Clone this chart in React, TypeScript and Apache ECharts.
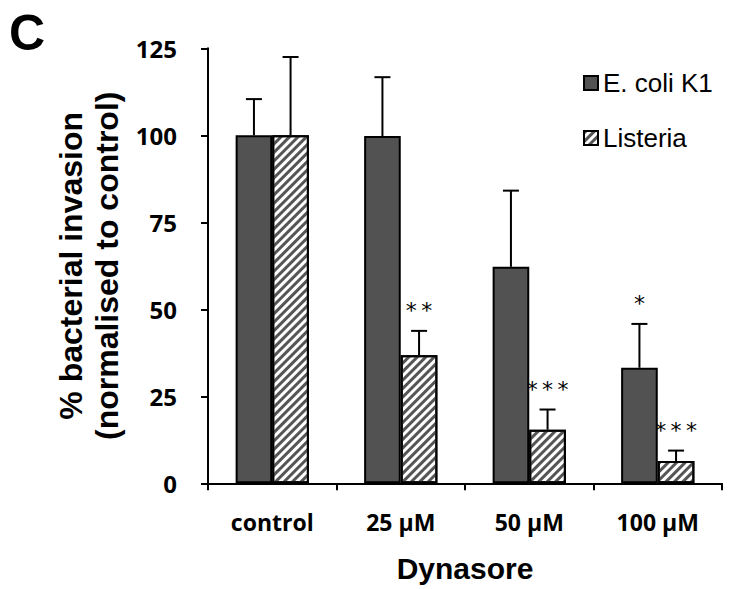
import React, { useEffect, useRef } from "react";
import * as echarts from "echarts";

const categories = ["control", "25 µM", "50 µM", "100 µM"];
const ecoli = [100, 99.8, 62.2, 33.2];
const ecoliErr = [10.4, 16.9, 21.9, 12.6];
const listeria = [100, 36.8, 15.4, 6.4];
const listeriaErr = [22.5, 7.0, 5.8, 3.0];
const ecoliSig = ["", "", "", "*"];
const listeriaSig = ["", "**", "***", "***"];
const yTicks = [0, 25, 50, 75, 100, 125];

const GAP = 0.43;

export default function App() {
  const ref = useRef<HTMLDivElement>(null);
  useEffect(() => {
    const chart = echarts.init(ref.current!, null, { renderer: "svg" });
    const makeErr = (idx: number, vals: number[], errs: number[], sig: string[]) => ({
      type: "custom",
      z: 5,
      silent: true,
      data: vals.map((v, i) => [i, v, errs[i]]),
      renderItem: (params: any, api: any) => {
        const ci = api.value(0);
        const v = api.value(1);
        const e = api.value(2);
        const s = String(sig[params.dataIndex] || "");
        const base = api.coord([ci, v]);
        const top = api.coord([ci, v + e]);
        const band = api.size([1, 0])[0];
        const bw = (band * (1 - GAP)) / 2;
        const cx = base[0] + (idx === 0 ? -bw / 2 : bw / 2);
        const children: any[] = [
          { type: "line", shape: { x1: cx, y1: base[1], x2: cx, y2: top[1] }, style: { stroke: "#000", lineWidth: 2 } },
          { type: "line", shape: { x1: cx - 8, y1: top[1], x2: cx + 8, y2: top[1] }, style: { stroke: "#000", lineWidth: 2 } },
        ];
        if (s) {
          children.push({
            type: "text",
            style: {
              text: s.split("").join("\u2009"),
              x: cx,
              y: top[1] - 20,
              textAlign: "center",
              textVerticalAlign: "middle",
              font: "22px 'DejaVu Sans', sans-serif",
              fill: "#000",
            },
          });
        }
        return { type: "group", children };
      },
    });
    chart.setOption({
      animation: false,
      backgroundColor: "#fff",
      grid: { left: 208, right: 32, top: 48.3, bottom: 105.7, containLabel: false },
      legend: {
        orient: "vertical",
        left: 578,
        top: 65,
        itemWidth: 14,
        itemHeight: 14,
        itemGap: 29,
        icon: "rect",
        textStyle: { fontSize: 26, lineHeight: 26, color: "#000", fontFamily: "'Liberation Sans', Arial, sans-serif" },
        data: ["E. coli K1", "Listeria"],
      },
      graphic: [
        {
          type: "text",
          left: 9,
          top: 8,
          style: { text: "C", font: "bold 50px 'Liberation Sans', Arial, sans-serif", fill: "#000" },
        },
      ],
      xAxis: {
        type: "category",
        data: categories,
        name: "Dynasore",
        nameLocation: "middle",
        nameGap: 70,
        nameTextStyle: { fontSize: 30, fontWeight: "bold", color: "#000", fontFamily: "'Liberation Sans', Arial, sans-serif" },
        axisLine: { lineStyle: { color: "#000", width: 2 } },
        axisTick: { show: true, length: 7, lineStyle: { color: "#000", width: 2 } },
        axisLabel: { fontSize: 23, fontWeight: "bold", color: "#000", margin: 27, fontFamily: "'Open Sans', sans-serif" },
      },
      yAxis: {
        type: "value",
        min: yTicks[0],
        max: yTicks[yTicks.length - 1],
        interval: 25,
        name: "% bacterial invasion\n(normalised to control)",
        nameLocation: "middle",
        nameGap: 78,
        nameTextStyle: { fontSize: 32, lineHeight: 36, fontWeight: "bold", color: "#000", fontFamily: "'Liberation Sans', Arial, sans-serif" },
        axisLine: { show: true, lineStyle: { color: "#000", width: 2 } },
        axisTick: { show: true, length: 7, lineStyle: { color: "#000", width: 2 } },
        splitLine: { show: false },
        axisLabel: { fontSize: 24, fontWeight: "bold", color: "#000", margin: 31, fontFamily: "'Open Sans', sans-serif" },
      },
      series: [
        {
          name: "E. coli K1",
          type: "bar",
          data: ecoli,
          barGap: "0%",
          barCategoryGap: GAP * 100 + "%",
          itemStyle: { color: "#525252", borderColor: "#000", borderWidth: 2 },
        },
        {
          name: "Listeria",
          type: "bar",
          data: listeria,
          barGap: "0%",
          barCategoryGap: GAP * 100 + "%",
          itemStyle: {
            color: "#fff",
            borderColor: "#000",
            borderWidth: 2,
            decal: {
              symbol: "rect",
              symbolSize: 1,
              color: "#555",
              backgroundColor: "#fff",
              dashArrayX: [1, 0],
              dashArrayY: [2.2, 2.3],
              rotation: -Math.PI / 4,
            },
          },
        },
        makeErr(0, ecoli, ecoliErr, ecoliSig),
        makeErr(1, listeria, listeriaErr, listeriaSig),
      ],
    });
    return () => chart.dispose();
  }, []);
  return <div ref={ref} style={{ width: 754, height: 589, position: "absolute", left: 0, top: 0 }} />;
}
